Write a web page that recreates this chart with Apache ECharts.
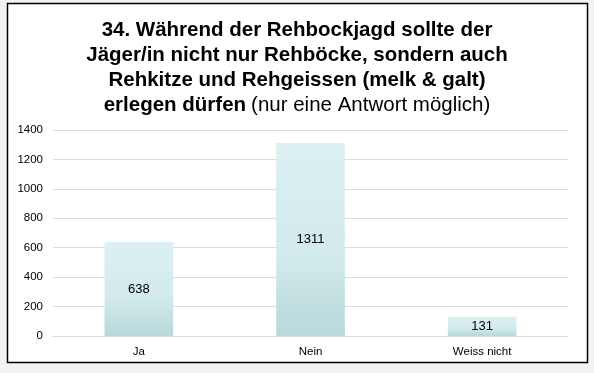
<!DOCTYPE html>
<html><head><meta charset="utf-8">
<script src="https://cdn.jsdelivr.net/npm/echarts@6/dist/echarts.min.js"></script>
<style>html,body{margin:0;padding:0;background:#f3f3f3;}#c{width:594px;height:373px;}</style>
</head><body><div id="c"></div>
<script>
const categories = ['Ja', 'Nein', 'Weiss nicht'];
const values = [638, 1311, 131];
const yTicks = [0, 200, 400, 600, 800, 1000, 1200, 1400];

const chart = echarts.init(document.getElementById('c'));
chart.setOption({
  animation: false,
  backgroundColor: '#f3f3f3',
  graphic: [{
    type: 'rect', z: -10,
    shape: { x: 7.5, y: 3.5, width: 580, height: 359 },
    style: { fill: '#ffffff', stroke: '#000000', lineWidth: 1.5 }
  }],
  title: {
    text: '{b|34. Während der Rehbockjagd sollte der}\n{b|Jäger/in nicht nur Rehböcke, sondern auch}\n{b|Rehkitze und Rehgeissen (melk & galt)}\n{b|erlegen dürfen} {n|(nur eine Antwort möglich)}',
    left: 'center', top: 13,
    textStyle: {
      rich: {
        b: { fontFamily: 'Liberation Sans', fontWeight: 'bold', fontSize: 20.5, lineHeight: 25, color: '#000' },
        n: { fontFamily: 'Liberation Sans', fontWeight: 'normal', fontSize: 20.5, lineHeight: 25, color: '#000' }
      }
    }
  },
  grid: { left: 53, right: 26, top: 130, bottom: 37, containLabel: false },
  xAxis: {
    type: 'category', data: categories,
    axisLine: { show: true, lineStyle: { color: '#d9d9d9' } },
    axisTick: { show: false },
    axisLabel: { color: '#000', fontFamily: 'Liberation Sans', fontSize: 11.5, margin: 10 }
  },
  yAxis: {
    type: 'value', min: yTicks[0], max: yTicks[yTicks.length - 1], interval: 200,
    axisLine: { show: false }, axisTick: { show: false },
    axisLabel: { color: '#000', fontFamily: 'Liberation Sans', fontSize: 11.5, margin: 10,
      formatter: v => String(v) },
    splitLine: { lineStyle: { color: '#dcdcdc', width: 1 } }
  },
  series: [{
    type: 'bar', data: values, barWidth: '40%',
    itemStyle: {
      color: new echarts.graphic.LinearGradient(0, 0, 0, 1, [
        { offset: 0, color: '#dcf0f2' },
        { offset: 0.6, color: '#d2eaec' },
        { offset: 1, color: '#b8d8d9' }
      ])
    },
    label: { show: true, position: 'inside', color: '#000', fontFamily: 'Liberation Sans', fontSize: 13 }
  }]
});
</script></body></html>
